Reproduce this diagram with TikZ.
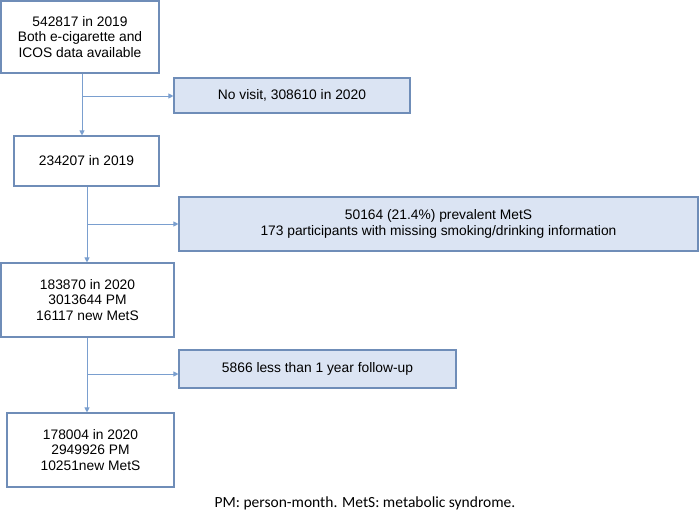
\documentclass[tikz,border=0pt]{standalone}
\usepackage{fontspec}
\setmainfont{Liberation Sans}
\newfontfamily\capfont{Carlito}
\usetikzlibrary{arrows.meta}
\definecolor{linkblue}{HTML}{7A9FCF}
\definecolor{edgeblue}{HTML}{6F8DB8}
\definecolor{fillblue}{HTML}{DBE4F3}
\tikzset{
  stage/.style={draw=edgeblue, line width=1.1pt, fill=white, align=center,
    inner sep=0pt, font=\fontsize{13.8}{15.8}\selectfont},
  drop/.style={stage, fill=fillblue},
  link/.style={draw=linkblue, line width=0.9pt,
    -{Triangle[length=5pt,width=5pt]}}
}

\begin{document}
\begin{tikzpicture}[x=1pt,y=-1pt]
\useasboundingbox (0,0) rectangle (700,516);
% main column
\node[stage, minimum width=158pt, minimum height=72pt] (start) at (80,37)
  {542817 in 2019\\Both e-cigarette and\\ICOS data available};
\node[stage, minimum width=145pt, minimum height=50pt] (base) at (86.5,161)
  {234207 in 2019};
\node[stage, minimum width=173pt, minimum height=74pt] (cohort) at (87.5,300)
  {183870 in 2020\\3013644 PM\\16117 new MetS};
\node[stage, minimum width=167pt, minimum height=74pt] (final) at (90.5,450)
  {178004 in 2020\\2949926 PM\\10251new MetS};
% exclusions
\node[drop, minimum width=236pt, minimum height=35pt] (novisit) at (292,95.5)
  {No visit, 308610 in 2020};
\node[drop, minimum width=519pt, minimum height=54pt] (mets) at (438.5,224)
  {50164 (21.4\%) prevalent MetS\\173 participants with missing smoking/drinking information};
\node[drop, minimum width=277pt, minimum height=38pt] (short) at (317.5,369)
  {5866 less than 1 year follow-up};
% branch points
\coordinate (b1) at (82,96);
\coordinate (b2) at (87,224);
\coordinate (b3) at (87,374);
\draw[link] (start.south -| b1) -- (base.north -| b1);
\draw[link] (b1) -- (b1 -| novisit.west);
\draw[link] (base.south -| b2) -- (cohort.north -| b2);
\draw[link] (b2) -- (b2 -| mets.west);
\draw[link] (cohort.south -| b3) -- (final.north -| b3);
\draw[link] (b3) -- (b3 -| short.west);
\node[font=\capfont\fontsize{15.5}{17}\selectfont] (note) at (365,503)
  {PM: person-month. MetS: metabolic syndrome.};
\end{tikzpicture}
\end{document}
